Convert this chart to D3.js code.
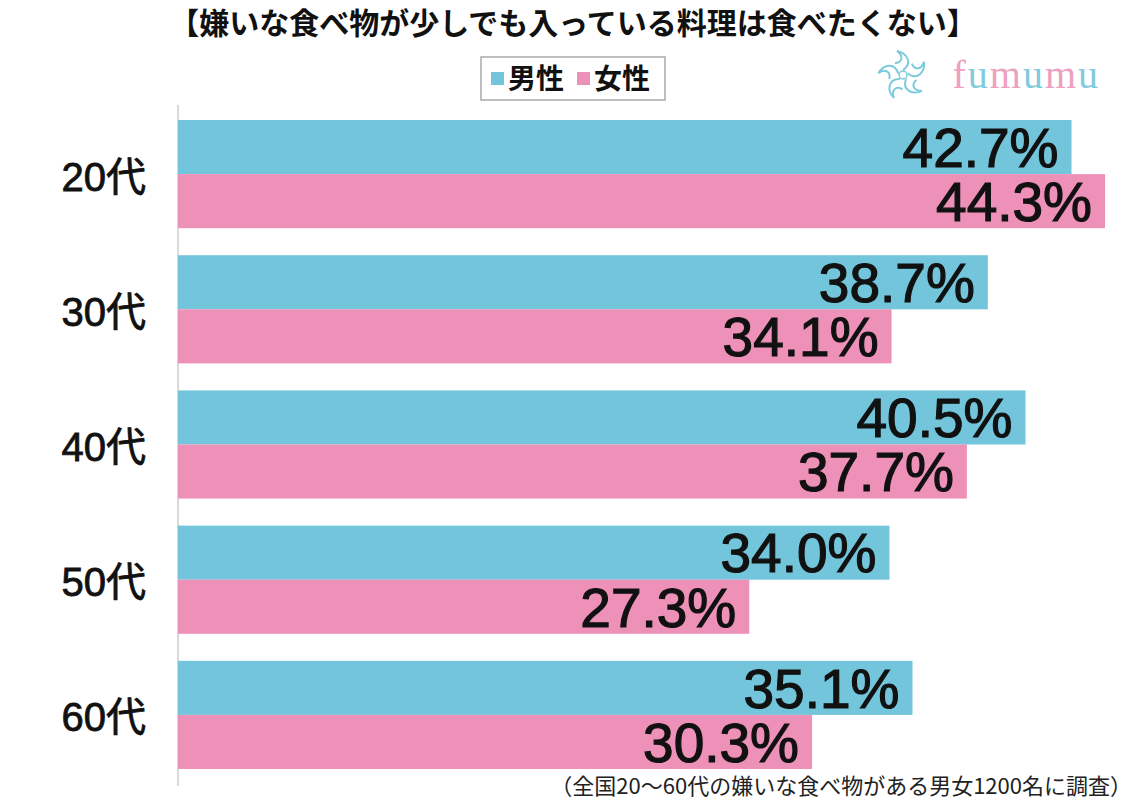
<!DOCTYPE html>
<html>
<head>
<meta charset="utf-8">
<script src="https://cdn.jsdelivr.net/npm/d3@7"></script>
<style>
  body { margin: 0; background: #fff; }
  text { font-family: "Liberation Sans", "Noto Sans CJK JP", sans-serif; }
  text.jp { font-family: "Noto Sans CJK JP", sans-serif; }
  text.logo { font-family: "Liberation Serif", "DejaVu Serif", serif; }
</style>
</head>
<body>
<svg id="chart" width="1146" height="800"></svg>
<script>
// データ
var categories = ["20代", "30代", "40代", "50代", "60代"];
var series = ["男性", "女性"];
var male = [42.7, 38.7, 40.5, 34.0, 35.1];
var female = [44.3, 34.1, 37.7, 27.3, 30.3];
var colors = ["#72c5da", "#ee91b8"];

var svg = d3.select("#chart"),
    width = +svg.attr("width"),
    height = +svg.attr("height");

svg.append("rect").attr("width", width).attr("height", height).attr("fill", "#fff");

var x0 = 178;
var x = d3.scaleLinear().domain([0, 44.3]).range([x0, 1105]);

var y = d3.scaleBand()
    .domain(categories)
    .range([106.5, 782.5])
    .paddingInner(0.2)
    .paddingOuter(0.1);

var ySub = d3.scaleBand()
    .domain(series)
    .range([0, y.bandwidth()]);

var rows = categories.map(function(c, i) {
  return { cat: c, values: [{ s: "男性", v: male[i] }, { s: "女性", v: female[i] }] };
});

// 軸線
svg.append("line")
    .attr("x1", x0).attr("x2", x0)
    .attr("y1", 105).attr("y2", 786)
    .attr("stroke", "#ccc").attr("stroke-width", 1.5);

var g = svg.selectAll(".grp")
  .data(rows)
  .enter().append("g")
    .attr("class", "grp")
    .attr("transform", function(d) { return "translate(0," + y(d.cat) + ")"; });

g.selectAll("rect")
  .data(function(d) { return d.values; })
  .enter().append("rect")
    .attr("x", x0)
    .attr("y", function(d) { return ySub(d.s); })
    .attr("width", function(d) { return x(d.v) - x0; })
    .attr("height", ySub.bandwidth())
    .attr("fill", function(d, i) { return colors[i]; });

g.selectAll(".val")
  .data(function(d) { return d.values; })
  .enter().append("text")
    .attr("class", "val")
    .attr("x", function(d) { return x(d.v) - 13; })
    .attr("y", function(d) { return ySub(d.s) + ySub.bandwidth() / 2; })
    .attr("dy", "0.36em")
    .attr("text-anchor", "end")
    .attr("font-size", 55)
    .attr("fill", "#111")
    .attr("stroke", "#111")
    .attr("stroke-width", 1.2)
    .text(function(d) { return d.v.toFixed(1) + "%"; });

// カテゴリラベル
svg.selectAll(".cat")
  .data(categories)
  .enter().append("text")
    .attr("class", "cat")
    .attr("x", 146)
    .attr("y", function(d) { return y(d) + y.bandwidth() / 2 + 2; })
    .attr("dy", "0.36em")
    .attr("text-anchor", "end")
    .attr("font-size", 40)
    .attr("fill", "#111")
    .attr("stroke", "#111")
    .attr("stroke-width", 0.8)
    .text(function(d) { return d; });

// タイトル
svg.append("text")
    .attr("class", "jp")
    .attr("x", 573).attr("y", 34)
    .attr("text-anchor", "middle")
    .attr("font-size", 30)
    .attr("font-weight", "bold")
    .attr("fill", "#111")
    .text("【嫌いな食べ物が少しでも入っている料理は食べたくない】");

// 凡例
var legend = svg.append("g");
legend.append("rect")
    .attr("x", 481).attr("y", 57).attr("width", 184).attr("height", 43)
    .attr("fill", "#fff").attr("stroke", "#aaa").attr("stroke-width", 1.5);
var lx = [491, 577];
series.forEach(function(s, i) {
  legend.append("rect")
      .attr("x", lx[i]).attr("y", 72).attr("width", 13).attr("height", 13)
      .attr("fill", colors[i]);
  legend.append("text")
      .attr("class", "jp")
      .attr("x", lx[i] + 17).attr("y", 79)
      .attr("dy", "0.36em")
      .attr("font-size", 28)
      .attr("font-weight", "bold")
      .attr("fill", "#111")
      .text(s);
});

// ロゴ
var logo = svg.append("g").attr("transform", "translate(903,75)");
d3.range(5).forEach(function(k) {
  logo.append("path")
      .attr("d", "M0,-5 C10,-12 4,-22 -6,-24 C2,-18 -2,-12 -8,-12")
      .attr("fill", "none").attr("stroke", "#7ccbdc").attr("stroke-width", 2)
      .attr("transform", "rotate(" + (k * 72) + ")");
});
logo.append("circle").attr("r", 4).attr("fill", "none").attr("stroke", "#7ccbdc").attr("stroke-width", 1.5);
var logoText = svg.append("text")
    .attr("class", "logo")
    .attr("x", 1100).attr("y", 88)
    .attr("text-anchor", "end")
    .attr("font-size", 40)
    .attr("letter-spacing", 2);
"fumumu".split("").forEach(function(ch, i) {
  logoText.append("tspan")
      .attr("fill", i % 2 === 0 ? "#eea0c0" : "#82cbdc")
      .text(ch);
});

// 注記
svg.append("text")
    .attr("class", "jp")
    .attr("x", 1132).attr("y", 794)
    .attr("text-anchor", "end")
    .attr("font-size", 22)
    .attr("fill", "#222")
    .text("（全国20～60代の嫌いな食べ物がある男女1200名に調査）");
</script>
</body>
</html>
